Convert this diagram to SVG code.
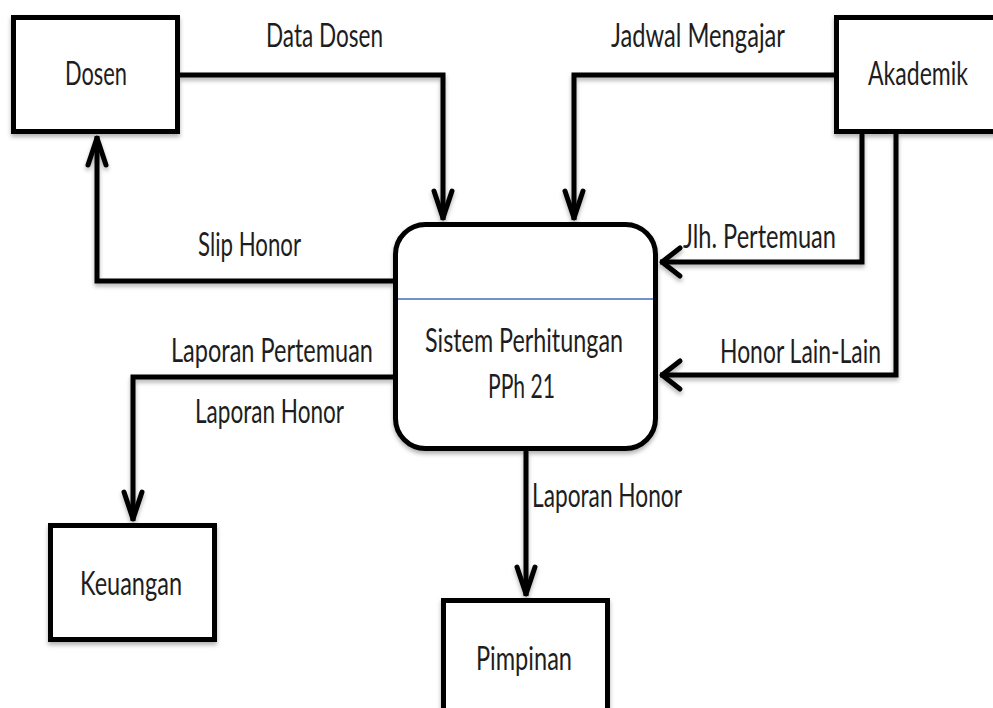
<svg xmlns="http://www.w3.org/2000/svg" width="993" height="708" viewBox="0 0 993 708">
  <style>
    .box { fill: #ffffff; stroke: #000000; stroke-width: 5; }
    .proc { fill: #ffffff; stroke: #000000; stroke-width: 5; }
    .flow { fill: none; stroke: #000000; stroke-width: 5; stroke-linejoin: miter; }
    .tip { fill: none; stroke: #000000; stroke-width: 5; stroke-linejoin: round; stroke-linecap: round; }
    .lbl { font-family: Lato, "Liberation Sans", sans-serif; font-size: 33px; fill: #1e1e1e; }
  </style>
  <defs>
    <filter id="shade" x="-10%" y="-10%" width="120%" height="130%">
      <feDropShadow dx="0" dy="3" stdDeviation="2" flood-color="#000000" flood-opacity="0.3"/>
    </filter>
    <!-- chevron heads: vertical runs use a long narrow head, horizontal runs a short wide one -->
    <marker id="headV" markerUnits="userSpaceOnUse" markerWidth="40" markerHeight="40" refX="2" refY="0" orient="auto" overflow="visible">
      <path class="tip" d="M-27,-9 L0,0 L-27,9"/>
    </marker>
    <marker id="headH" markerUnits="userSpaceOnUse" markerWidth="40" markerHeight="40" refX="2" refY="0" orient="auto" overflow="visible">
      <path class="tip" d="M-18,-14 L0,0 L-18,14"/>
    </marker>
  </defs>

  <rect width="993" height="708" fill="#ffffff"/>

  <g id="connectors" filter="url(#shade)">
    <path id="f-data-dosen" class="flow" d="M180,75 H443 V220" marker-end="url(#headV)"/>
    <path id="f-jadwal" class="flow" d="M834,75 H574 V220" marker-end="url(#headV)"/>
    <path id="f-jlh" class="flow" d="M862,134 V262 H660" marker-end="url(#headH)"/>
    <path id="f-honor-lain" class="flow" d="M896,134 V375 H660" marker-end="url(#headH)"/>
    <path id="f-slip" class="flow" d="M393,281 H97 V136" marker-end="url(#headV)"/>
    <path id="f-laporan-keu" class="flow" d="M393,377 H133 V521" marker-end="url(#headV)"/>
    <path id="f-laporan-pim" class="flow" d="M526,451 V596" marker-end="url(#headV)"/>
  </g>

  <g id="node-dosen">
    <rect class="box" x="13.5" y="17.5" width="164" height="114" filter="url(#shade)"/>
    <text class="lbl" x="65" y="85" textLength="62" lengthAdjust="spacingAndGlyphs">Dosen</text>
  </g>

  <g id="node-akademik">
    <rect class="box" x="836.5" y="17.5" width="175" height="114" filter="url(#shade)"/>
    <text class="lbl" x="868" y="85" textLength="100" lengthAdjust="spacingAndGlyphs">Akademik</text>
  </g>

  <g id="node-keuangan">
    <rect class="box" x="50.5" y="525.5" width="164" height="114" filter="url(#shade)"/>
    <text class="lbl" x="80" y="595" textLength="102" lengthAdjust="spacingAndGlyphs">Keuangan</text>
  </g>

  <g id="node-pimpinan">
    <rect class="box" x="443.5" y="600.5" width="164" height="140" filter="url(#shade)"/>
    <text class="lbl" x="476" y="670" textLength="96" lengthAdjust="spacingAndGlyphs">Pimpinan</text>
  </g>

  <g id="node-sistem">
    <rect class="proc" x="395.5" y="224.5" width="260" height="224" rx="30" ry="30" filter="url(#shade)"/>
    <line x1="398" y1="299" x2="653" y2="299" stroke="#7391c9" stroke-width="2"/>
    <text class="lbl" x="425" y="352" textLength="198" lengthAdjust="spacingAndGlyphs">Sistem Perhitungan</text>
    <text class="lbl" x="488" y="398" textLength="67" lengthAdjust="spacingAndGlyphs">PPh 21</text>
  </g>

  <g id="flow-labels">
    <text class="lbl" x="266" y="47" textLength="117" lengthAdjust="spacingAndGlyphs">Data Dosen</text>
    <text class="lbl" x="611" y="47" textLength="174" lengthAdjust="spacingAndGlyphs">Jadwal Mengajar</text>
    <text class="lbl" x="198" y="256" textLength="103" lengthAdjust="spacingAndGlyphs">Slip Honor</text>
    <text class="lbl" x="683" y="248" textLength="153" lengthAdjust="spacingAndGlyphs">Jlh. Pertemuan</text>
    <text class="lbl" x="720" y="363" textLength="161" lengthAdjust="spacingAndGlyphs">Honor Lain-Lain</text>
    <text class="lbl" x="171" y="362" textLength="202" lengthAdjust="spacingAndGlyphs">Laporan Pertemuan</text>
    <text class="lbl" x="195" y="423" textLength="149" lengthAdjust="spacingAndGlyphs">Laporan Honor</text>
    <text class="lbl" x="532" y="507" textLength="150" lengthAdjust="spacingAndGlyphs">Laporan Honor</text>
  </g>
</svg>
